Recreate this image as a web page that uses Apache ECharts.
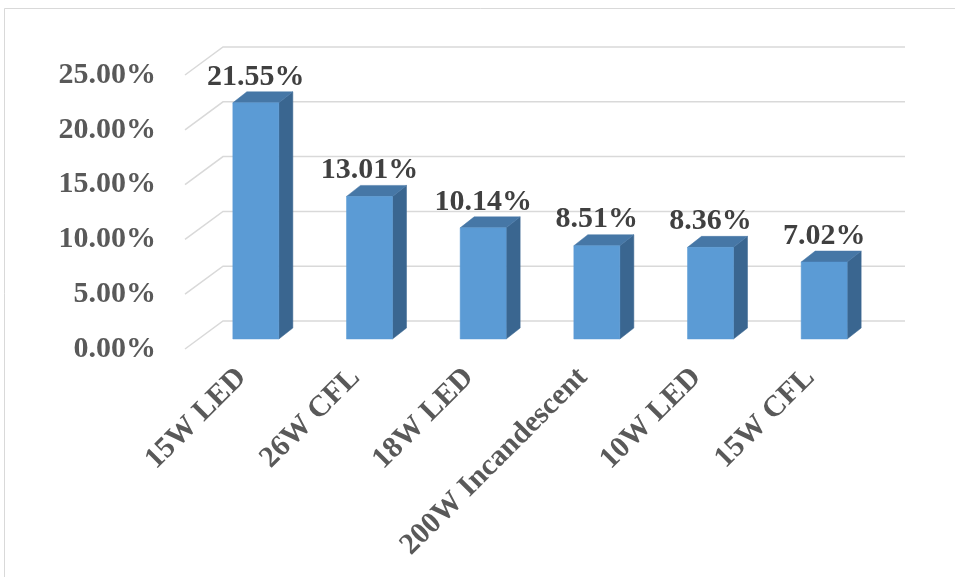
<!DOCTYPE html>
<html>
<head>
<meta charset="utf-8">
<script src="https://cdn.jsdelivr.net/npm/echarts@6/dist/echarts.min.js"></script>
<style>
html,body{margin:0;padding:0;background:#fff;}
#c{width:955px;height:577px;}
</style>
</head>
<body>
<div id="c"></div>
<script>
var categories = ['15W LED', '26W CFL', '18W LED', '200W Incandescent', '10W LED', '15W CFL'];
var values = [0.2155, 0.1301, 0.1014, 0.0851, 0.0836, 0.0702];
var labels = ['21.55%', '13.01%', '10.14%', '8.51%', '8.36%', '7.02%'];
var yTicks = [0, 0.05, 0.10, 0.15, 0.20, 0.25];

var FONT = '"Liberation Serif","Times New Roman",serif';
var DEPTH = [38, -28];       // floor depth vector (front -> back wall)
var FRONT = [14, -10];       // bar front face offset from floor front
var BAR_D = [14, -11];       // bar depth vector
var HALF_W = 23;

var chart = echarts.init(document.getElementById('c'), null, {renderer: 'canvas'});

var option = {
  backgroundColor: '#ffffff',
  animation: false,
  graphic: [{
    type: 'rect', silent: true, z: 0,
    shape: {x: 4.5, y: 8.5, width: 1000, height: 1000},
    style: {fill: 'none', stroke: '#d9d9d9', lineWidth: 1}
  }],
  grid: {left: 185, right: 88, top: 75, bottom: 228, containLabel: false},
  xAxis: {
    type: 'category',
    data: categories,
    axisLine: {show: false},
    axisTick: {show: false},
    splitLine: {show: false},
    axisLabel: {
      rotate: 45, margin: 24, interval: 0,
      color: '#595959', fontFamily: FONT, fontWeight: 'bold', fontSize: 30
    }
  },
  yAxis: {
    type: 'value', min: 0, max: 0.25, interval: 0.05,
    axisLine: {show: false}, axisTick: {show: false}, splitLine: {show: false},
    axisLabel: {
      margin: 29, color: '#595959', fontFamily: FONT, fontWeight: 'bold', fontSize: 30,
      formatter: function (v) { return (v * 100).toFixed(2) + '%'; }
    }
  },
  series: [{
    type: 'custom',
    z: 1,
    clip: false,
    data: yTicks.map(function (t) { return [0, t]; }),
    renderItem: function (params, api) {
      var cs = params.coordSys;
      var p = api.coord([0, api.value(1)]);
      var x0 = cs.x, y0 = p[1];
      var bx = x0 + DEPTH[0], by = y0 + DEPTH[1];
      var ex = cs.x + cs.width + DEPTH[0];
      return {
        type: 'polyline',
        shape: {points: [[x0, y0], [bx, by], [ex, by]]},
        style: {stroke: '#d9d9d9', lineWidth: 1.5, fill: null}
      };
    }
  }, {
    type: 'custom',
    z: 5,
    clip: false,
    data: values.map(function (v, i) { return [i, v]; }),
    renderItem: function (params, api) {
      var i = api.value(0), v = api.value(1);
      var top = api.coord([i, v]);
      var base = api.coord([i, 0]);
      var cx = top[0] + FRONT[0];
      var L = cx - HALF_W, R = cx + HALF_W;
      var T = top[1] + FRONT[1], B = base[1] + FRONT[1];
      var dx = BAR_D[0], dy = BAR_D[1];
      return {
        type: 'group',
        children: [{
          type: 'polygon',
          shape: {points: [[R, T], [R + dx, T + dy], [R + dx, B + dy], [R, B]]},
          style: {fill: '#3a6690', stroke: '#3a6690', lineWidth: 0.5}
        }, {
          type: 'polygon',
          shape: {points: [[L, T], [R, T], [R + dx, T + dy], [L + dx, T + dy]]},
          style: {fill: '#4677a6', stroke: '#4677a6', lineWidth: 0.5}
        }, {
          type: 'rect',
          shape: {x: L, y: T, width: R - L, height: B - T},
          style: {fill: '#5b9bd5', stroke: '#5b9bd5', lineWidth: 0.5}
        }, {
          type: 'text',
          style: {
            x: cx, y: T + dy,
            text: labels[params.dataIndex],
            align: 'center', verticalAlign: 'bottom',
            fill: '#404040', font: 'bold 30px ' + FONT
          }
        }]
      };
    }
  }]
};
chart.setOption(option);
</script>
</body>
</html>
